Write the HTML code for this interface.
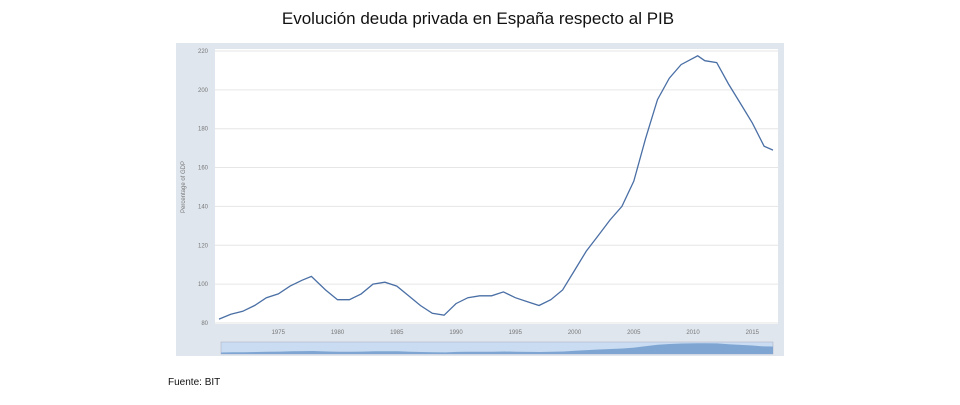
<!DOCTYPE html>
<html><head><meta charset="utf-8"><style>
body{margin:0;background:#fff;width:960px;height:400px;overflow:hidden;font-family:"Liberation Sans",sans-serif}
</style></head><body>
<svg width="960" height="400">
<text x="478" y="24" text-anchor="middle" font-size="17" fill="#111">Evolución deuda privada en España respecto al PIB</text>
<rect x="176" y="43" width="608" height="313" fill="#dfe6ee"/>
<rect x="215" y="49" width="563" height="275" fill="#fff"/>
<g id="grid"></g>
<g id="yt"></g>
<g id="xt"></g>
<text transform="translate(185,187) rotate(-90)" text-anchor="middle" font-size="6" fill="#777">Percentage of GDP</text>
<rect x="221" y="342" width="552" height="12" fill="#c9dcf2" stroke="#aab" stroke-width="0.5"/>
<path id="nav" fill="#7fa6d3"/>
<path id="line" fill="none" stroke="#4a6fa5" stroke-width="1.3"/>
<text x="168" y="385" font-size="10" fill="#111">Fuente: BIT</text>
</svg>
<script>
const years=[1970,1971,1972,1973,1974,1975,1976,1977,1977.8,1979,1980,1981,1982,1983,1984,1985,1986,1987,1988,1989,1990,1991,1992,1993,1994,1995,1996,1997,1998,1999,2000,2001,2002,2003,2004,2005,2006,2007,2008,2009,2010.4,2011,2012,2013,2014,2015,2016,2016.75];
const values=[82,84.5,86,89,93,95,99,102,104,97,92,92,95,100,101,99,94,89,85,84,90,93,94,94,96,93,91,89,92,97,107,117,125,133,140,153,175,195,206,213,217.5,215,214,203,193,183,171,169];
const yTicks=[80,100,120,140,160,180,200,220];
const xTicks=[1975,1980,1985,1990,1995,2000,2005,2010,2015];
const X=v=>219+(v-1970)*11.85;
const Y=v=>323-(v-80)*1.943;
const ns="http://www.w3.org/2000/svg";
const g=document.getElementById('grid'),yt=document.getElementById('yt'),xt=document.getElementById('xt');
yTicks.forEach(t=>{
 const l=document.createElementNS(ns,'line');
 l.setAttribute('x1',215);l.setAttribute('x2',778);l.setAttribute('y1',Y(t));l.setAttribute('y2',Y(t));
 l.setAttribute('stroke','#e6e6e6');
 
 
 g.appendChild(l);
 const tx=document.createElementNS(ns,'text');
 tx.setAttribute('x',208);tx.setAttribute('y',Y(t)+2);tx.setAttribute('text-anchor','end');
 tx.setAttribute('font-size','6');tx.setAttribute('fill','#777');tx.textContent=t;
 
 
 yt.appendChild(tx);
});
xTicks.forEach(t=>{
 const tx=document.createElementNS(ns,'text');
 tx.setAttribute('x',X(t));tx.setAttribute('y',334);tx.setAttribute('text-anchor','middle');
 tx.setAttribute('font-size','6');tx.setAttribute('fill','#777');tx.textContent=t;
 
 
 xt.appendChild(tx);
});
document.getElementById('line').setAttribute('d',years.map((y,i)=>(i?'L':'M')+X(y).toFixed(1)+','+Y(values[i]).toFixed(1)).join(''));
const NX=v=>221+(v-1970)/(2016.75-1970)*552;
const NY=v=>354-(v-60)/(220-60)*11;
document.getElementById('nav').setAttribute('d','M221,354'+years.map((y,i)=>'L'+NX(y).toFixed(1)+','+NY(values[i]).toFixed(1)).join('')+'L773,354Z');
</script>
</body></html>
